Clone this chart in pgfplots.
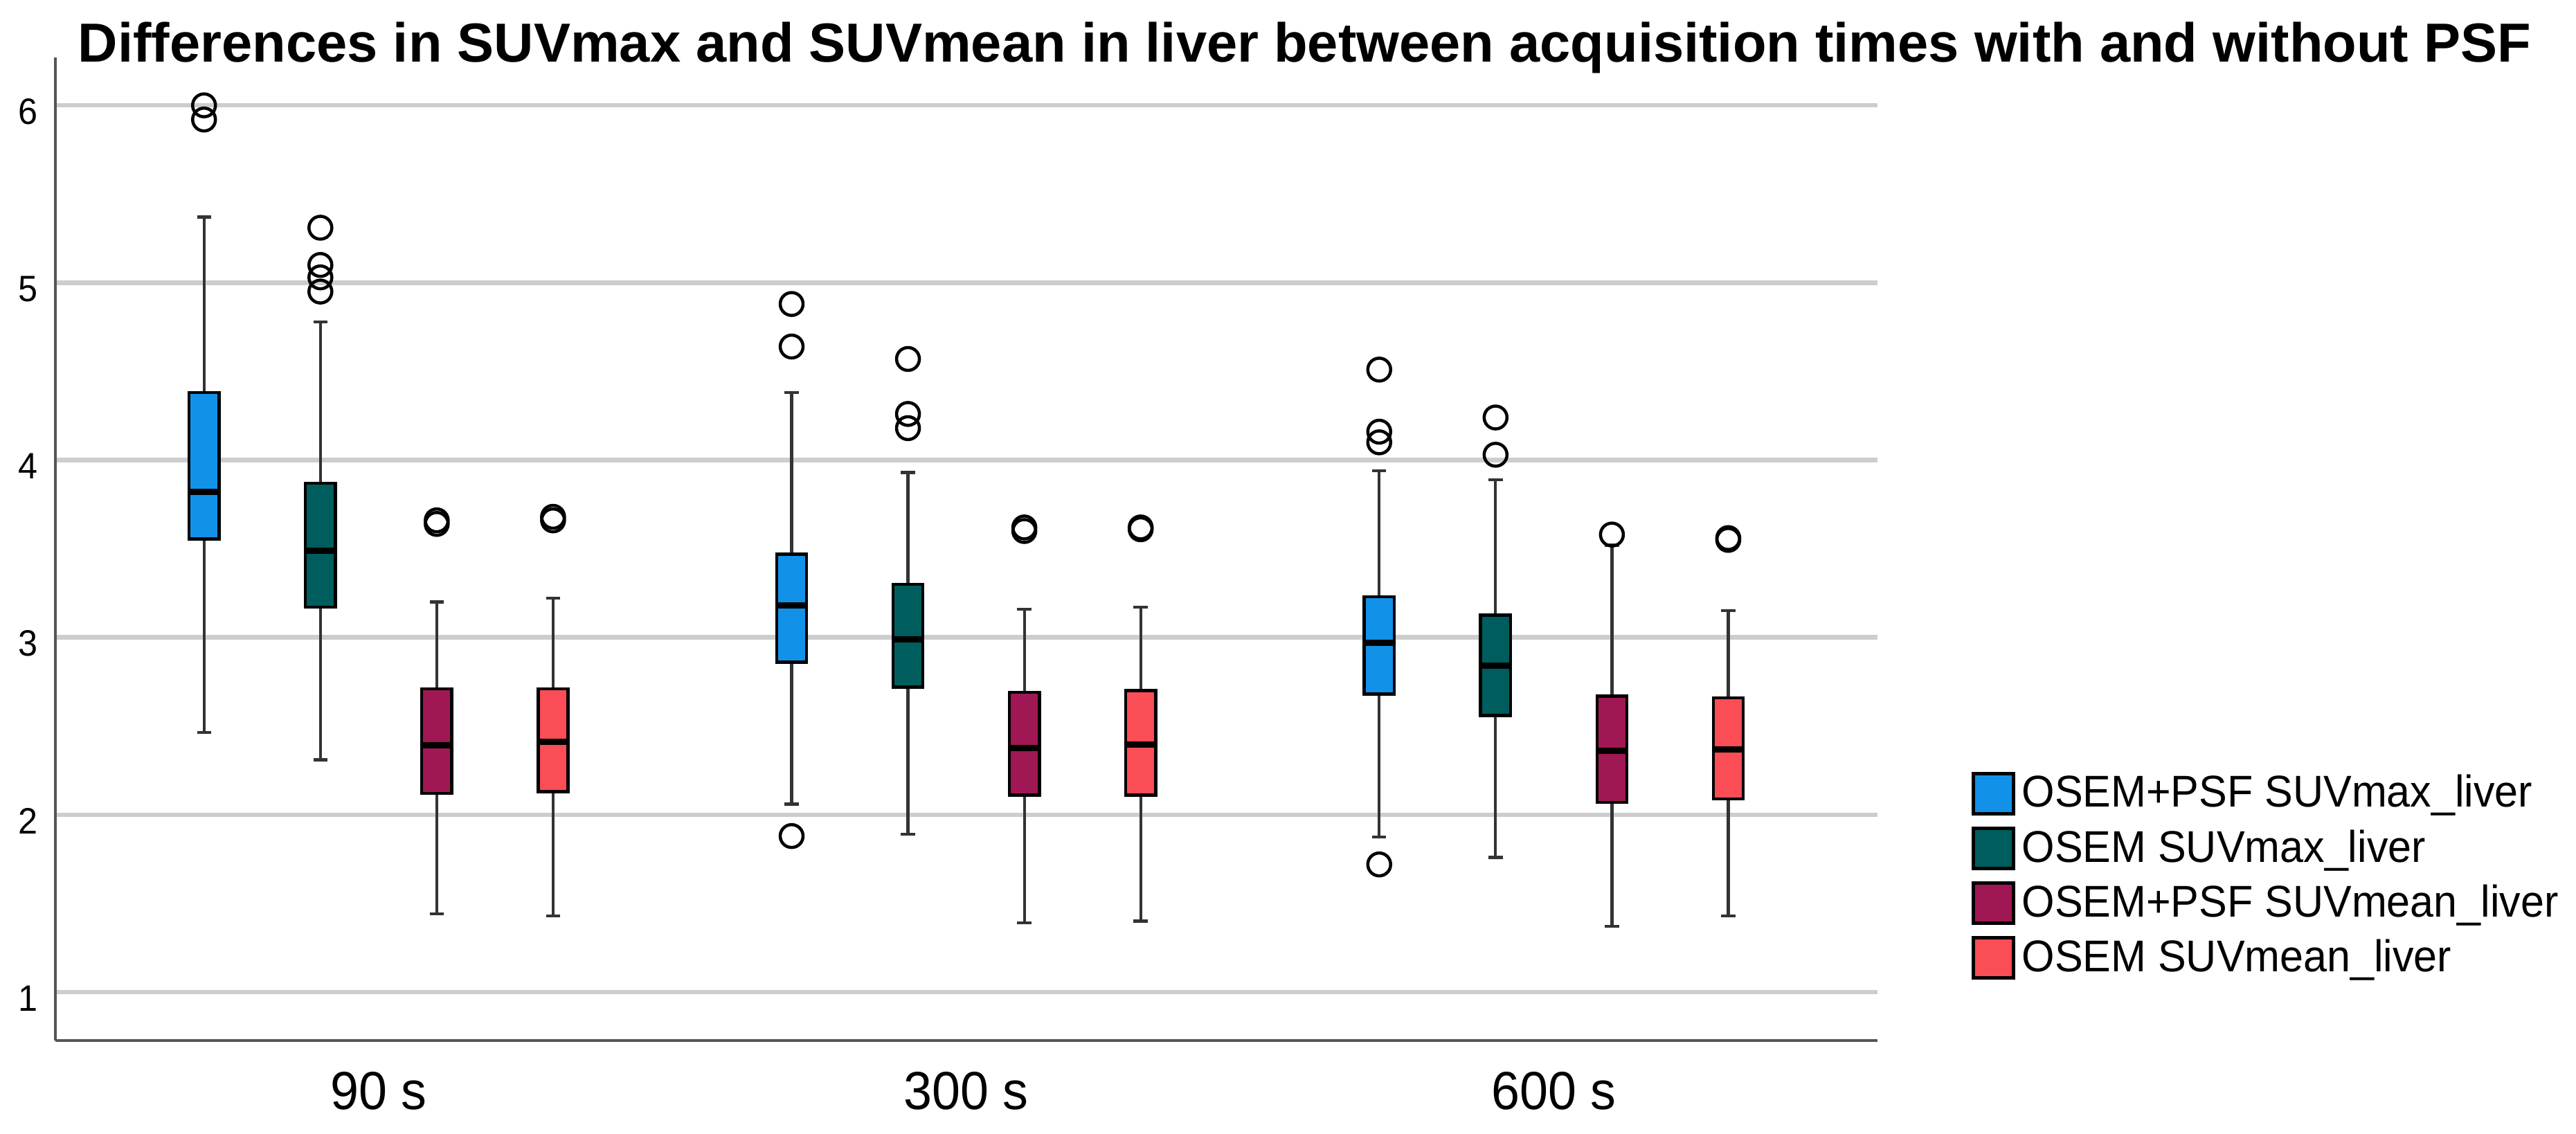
\documentclass[border=0pt]{standalone}
\usepackage{fontspec}
\setmainfont{Liberation Sans}
\newfontfamily\narrowfont{Liberation Sans}[FakeStretch=0.95]
\usepackage{pgfplots}
\pgfplotsset{compat=1.18}
\usepgfplotslibrary{statistics}
\definecolor{cblue}{HTML}{1192E8}
\definecolor{cteal}{HTML}{005D5D}
\definecolor{cmaroon}{HTML}{9F1853}
\definecolor{cred}{HTML}{FA4D56}
\definecolor{gridc}{HTML}{CDCDCD}
\definecolor{axisc}{HTML}{555555}
\definecolor{whisc}{HTML}{333333}
% pos, fill, lower whisker, q1, median, q3, upper whisker, outliers
\newcommand{\bp}[8]{\addplot[forget plot, boxplot prepared={draw direction=y, draw position=#1, lower whisker=#3, lower quartile=#4, median=#5, upper quartile=#6, upper whisker=#7}, fill=#2, draw=black, line width=0.9pt, mark=o, mark size=3.3pt, mark options={draw=black, line width=0.9pt, fill=none}] coordinates {#8};}
\begin{document}
\begin{tikzpicture}
\begin{axis}[
  at={(0,0)}, anchor=south west,
  width=526.4pt, height=284pt, scale only axis,
  xmin=-0.550, xmax=2.551, ymin=0.727, ymax=6.27,
  axis lines*=left,
  axis line style={draw=axisc, line width=0.9pt},
  ymajorgrids, grid style={draw=gridc, line width=1.3pt},
  ytick={1,2,3,4,5,6}, xtick={0,1,2}, xticklabels={90 s,300 s,600 s},
  major tick length=0pt,
  /pgf/number format/assume math mode=true,
  yticklabel style={font=\narrowfont\fontsize{10.6}{12}\selectfont, xshift=-1.5pt, yshift=-1.8pt},
  xticklabel style={font=\narrowfont\fontsize{15.5}{18}\selectfont, anchor=base, yshift=-19.8pt},
  title={Differences in SUVmax and SUVmean in liver between acquisition times with and without PSF},
  title style={at={(0,1)}, anchor=base west, xshift=6.4pt, yshift=-7.4pt, inner sep=0pt, font=\bfseries\fontsize{15.9}{18}\selectfont},
  boxplot/draw direction=y,
  boxplot/box extend=0.051,
  boxplot/whisker extend=0.024,
  boxplot/every median/.style={draw=black, line width=1.8pt},
  boxplot/every whisker/.style={draw=whisc, line width=0.85pt},
  legend image code/.code={\draw[#1, draw=black, line width=0.9pt] (0pt,-5.8pt) rectangle (11.6pt,5.8pt);},
  legend cell align=left,
  legend style={at={(1.0513,0.1676)}, anchor=west, draw=none, fill=none, inner sep=0pt, row sep=1.0pt,
    font=\narrowfont\fontsize{12.85}{14}\selectfont},
]
\coordinate (O) at (rel axis cs:0,0);
% 90 s
\bp{-0.297}{cblue}{2.465}{3.555}{3.82}{4.38}{5.37}{(0,6.00) (0,5.92)}
\bp{-0.099}{cteal}{2.31}{3.17}{3.49}{3.87}{4.78}{(0,5.31) (0,5.10) (0,5.03) (0,4.95)}
\bp{0.099}{cmaroon}{1.44}{2.12}{2.39}{2.71}{3.20}{(0,3.64) (0,3.66)}
\bp{0.297}{cred}{1.43}{2.13}{2.41}{2.71}{3.22}{(0,3.66) (0,3.68)}
% 300 s
\bp{0.703}{cblue}{2.06}{2.86}{3.18}{3.47}{4.38}{(0,4.88) (0,4.64) (0,1.88)}
\bp{0.901}{cteal}{1.89}{2.72}{2.99}{3.30}{3.93}{(0,4.57) (0,4.26) (0,4.18)}
\bp{1.099}{cmaroon}{1.39}{2.11}{2.375}{2.69}{3.16}{(0,3.60) (0,3.62)}
\bp{1.297}{cred}{1.40}{2.11}{2.395}{2.70}{3.17}{(0,3.61) (0,3.62)}
% 600 s
\bp{1.703}{cblue}{1.875}{2.68}{2.97}{3.23}{3.94}{(0,4.51) (0,4.16) (0,4.10) (0,1.72)}
\bp{1.901}{cteal}{1.76}{2.56}{2.84}{3.125}{3.89}{(0,4.24) (0,4.03)}
\bp{2.099}{cmaroon}{1.37}{2.07}{2.36}{2.67}{3.52}{(0,3.58)}
\bp{2.297}{cred}{1.43}{2.09}{2.37}{2.66}{3.15}{(0,3.55) (0,3.56)}
\addlegendimage{fill=cblue}\addlegendentry{OSEM+PSF SUVmax\_liver}
\addlegendimage{fill=cteal}\addlegendentry{OSEM SUVmax\_liver}
\addlegendimage{fill=cmaroon}\addlegendentry{OSEM+PSF SUVmean\_liver}
\addlegendimage{fill=cred}\addlegendentry{OSEM SUVmean\_liver}
\end{axis}
\pgfresetboundingbox
\path[use as bounding box] ([xshift=-16pt,yshift=-26.8pt]O) rectangle ([xshift=728.2pt,yshift=300.6pt]O);
\end{tikzpicture}
\end{document}
